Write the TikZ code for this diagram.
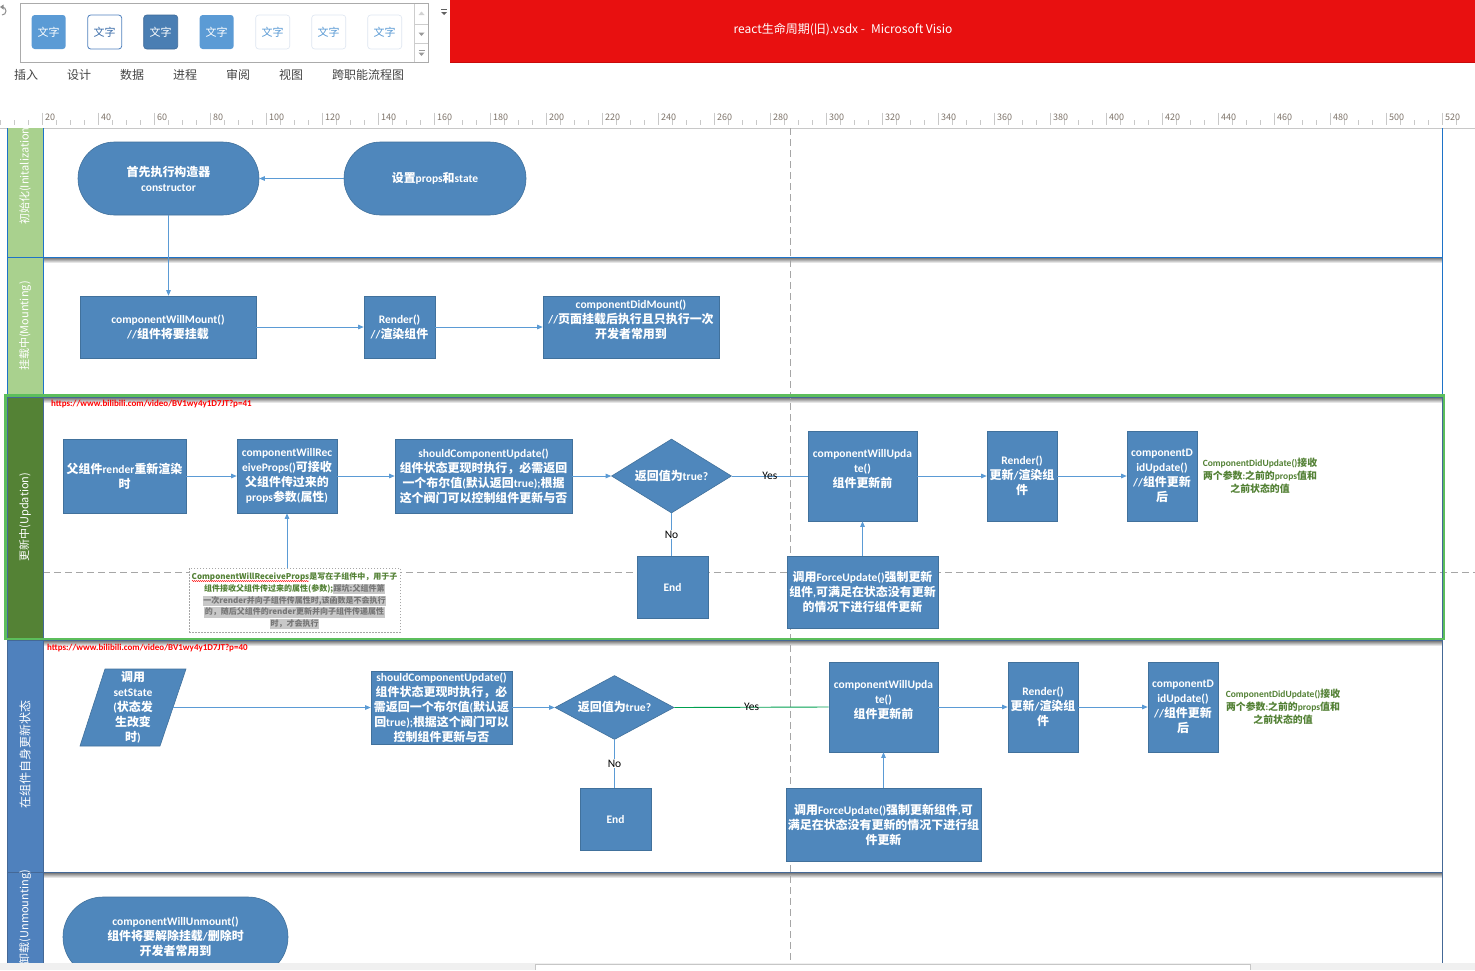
\documentclass[tikz,border=0pt]{standalone}
\usepackage{fontspec}
\setmainfont{Carlito}
\newfontfamily\latinfont{Carlito}
\newfontfamily\cjkfont[Scale=1.04]{Noto Sans CJK SC}
\newfontfamily\uifont{Noto Sans CJK SC}
\usetikzlibrary{shapes.geometric,arrows.meta,decorations.pathmorphing}
\XeTeXinterchartokenstate=1
\newXeTeXintercharclass\cjkcls
\newcount\cjkcnt
\cjkcnt="4E00
\loop \XeTeXcharclass\cjkcnt=\cjkcls \advance\cjkcnt by 1 \ifnum\cjkcnt<"A000 \repeat
\cjkcnt="3000
\loop \XeTeXcharclass\cjkcnt=\cjkcls \advance\cjkcnt by 1 \ifnum\cjkcnt<"3040 \repeat
\cjkcnt="FF00
\loop \XeTeXcharclass\cjkcnt=\cjkcls \advance\cjkcnt by 1 \ifnum\cjkcnt<"FFF0 \repeat
\XeTeXinterchartoks 0 \cjkcls = {\cjkfont}
\XeTeXinterchartoks 4095 \cjkcls = {\cjkfont}
\XeTeXinterchartoks \cjkcls 0 = {\latinfont}
\XeTeXinterchartoks \cjkcls 4095 = {\latinfont}

\definecolor{nodefill}{RGB}{79,135,188}
\definecolor{nodeborder}{RGB}{65,113,156}
\definecolor{arrowblue}{RGB}{91,155,213}
\definecolor{laneblue}{RGB}{30,115,200}
\definecolor{lanedark}{RGB}{68,104,150}
\definecolor{hdrlight}{RGB}{169,209,142}
\definecolor{hdrdark}{RGB}{84,130,53}
\definecolor{hdrblue}{RGB}{79,129,189}
\definecolor{poolgreen}{RGB}{92,190,92}
\definecolor{dashgray}{RGB}{166,166,166}
\definecolor{notegreen}{RGB}{83,129,53}
\definecolor{yesgreen}{RGB}{0,160,80}
\definecolor{titlered}{RGB}{232,16,16}
\definecolor{titleline}{RGB}{200,10,10}
\definecolor{hlgray}{RGB}{200,200,200}
\definecolor{hltext}{RGB}{118,118,118}
\definecolor{rulertext}{RGB}{125,115,105}
\definecolor{tickgray}{RGB}{200,200,200}
\definecolor{menutext}{RGB}{68,68,68}
\definecolor{galleryborder}{RGB}{171,171,171}
\definecolor{btnA}{RGB}{91,155,213}
\definecolor{btnBdraw}{RGB}{80,130,190}
\definecolor{btnBtext}{RGB}{60,110,170}
\definecolor{btnC}{RGB}{74,126,179}
\definecolor{btnCdraw}{RGB}{62,106,152}
\definecolor{btnText}{RGB}{91,155,213}
\definecolor{faintborder}{RGB}{222,230,241}
\definecolor{shade}{RGB}{235,241,249}
\definecolor{barGray}{RGB}{240,240,240}

\newcommand\nodefont{\fontsize{11.5}{15}\selectfont\bfseries}
\newcommand\uitext{\uifont\let\latinfont\uifont\let\cjkfont\uifont}
\newcommand\notefont{\uitext\fontsize{8}{11.75}\selectfont\bfseries}
\newcommand\hlbox[1]{{\setlength{\fboxsep}{0.4pt}\colorbox{hlgray}{\textcolor{hltext}{\rule[-2.4pt]{0pt}{8.5pt}#1}}}}

\begin{document}
\begin{tikzpicture}[x=1pt,y=-1pt,
  box/.style={draw=nodeborder, line width=0.6pt, fill=nodefill, text=white, font=\nodefont, align=center, inner sep=0pt},
  arr/.style={draw=arrowblue, line width=0.75pt, -{Triangle[length=5.5pt,width=4.5pt]}},
  ln/.style={draw=arrowblue, line width=0.75pt},
  lbl/.style={font=\fontsize{11.5}{13}\selectfont, text=black, inner sep=0pt},
  url/.style={font=\fontsize{9}{10}\selectfont\bfseries, text=red, anchor=west, inner sep=0pt},
  gnote/.style={font=\fontsize{9.5}{13}\selectfont\bfseries, text=notegreen, align=center, inner sep=0pt},
  hdr/.style={rotate=90, text=white, font=\uitext\fontsize{11}{13}\selectfont, inner sep=0pt},
  btn/.style={rounded corners=3pt, minimum width=34, minimum height=34, inner sep=0pt, font=\uitext\fontsize{11}{12}\selectfont},
  menu/.style={font=\uitext\fontsize{12}{14}\selectfont, text=menutext, inner sep=0pt},
  rlab/.style={font=\uitext\fontsize{9}{10}\selectfont, text=rulertext, inner sep=0pt, anchor=north west}]
\useasboundingbox (0,0) rectangle (1475,970);
\fill[white] (0,0) rectangle (1475,970);

% ---------- top UI ----------
\draw[gray!90, line width=1pt] (2,7) arc[start angle=-90, end angle=90, radius=4];
\fill[gray!90] (0,7) -- (3.5,4.5) -- (3.5,9.5) -- cycle;
\draw[galleryborder, line width=0.8pt] (20.5,3.5) rectangle (428,62);
\draw[galleryborder!60, line width=0.6pt] (414,3.5) -- (414,62) (414,24.3) -- (428,24.3) (414,43.3) -- (428,43.3);
\fill[gray!35] (418.5,15) -- (424.5,15) -- (421.5,11.5) -- cycle;
\fill[gray!80] (418.5,32.5) -- (424.5,32.5) -- (421.5,36) -- cycle;
\draw[gray!80, line width=0.7pt] (418.5,50.5) -- (424.5,50.5);
\fill[gray!80] (418.5,52.5) -- (424.5,52.5) -- (421.5,56) -- cycle;
\node[btn, fill=btnA, text=white] (g1) at (48.7,32) {文字};
\node[btn, fill=white, draw=btnBdraw, line width=0.8pt, text=btnBtext] (g2) at (104.7,32) {文字};
\node[btn, fill=btnC, draw=btnCdraw, line width=0.6pt, text=white] (g3) at (160.7,32) {文字};
\node[btn, fill=btnA, text=white] (g4) at (216.7,32) {文字};
\node[btn, fill=white, draw=faintborder, line width=0.6pt, text=btnText] (g5) at (272.7,32) {文字};
\node[btn, fill=white, draw=faintborder, line width=0.6pt, text=btnText] (g6) at (328.7,32) {文字};
\node[btn, fill=white, draw=faintborder, line width=0.6pt, text=btnText] (g7) at (384.7,32) {文字};
\draw[gray!75!black, line width=0.6pt] (441,9.5) -- (447,9.5);
\fill[gray!75!black] (441,12) -- (447,12) -- (444,15) -- cycle;
\node[menu] (m1) at (26,75) {插入};
\node[menu] (m2) at (79,75) {设计};
\node[menu] (m3) at (132,75) {数据};
\node[menu] (m4) at (185,75) {进程};
\node[menu] (m5) at (238,75) {审阅};
\node[menu] (m6) at (291,75) {视图};
\node[menu] (m7) at (368,75) {跨职能流程图};
\fill[titlered] (450,0) rectangle (1475,62);
\draw[titleline, line width=0.8pt] (450,62) -- (1475,62);
\node[font=\uitext\fontsize{12}{14}\selectfont, text=white, inner sep=0pt] (title) at (843,30) {react生命周期(旧).vsdx -\hspace{0.5em}Microsoft Visio};

% ruler
\draw[tickgray, line width=0.7pt] (0,128) -- (1475,128);
\foreach \j in {-3,...,101} {
  \pgfmathsetmacro\xx{42.7+14*\j}
  \draw[tickgray, line width=0.6pt] (\xx,120) -- (\xx,125);
}
\foreach \k in {0,...,25} {
  \pgfmathsetmacro\xx{42.7+56*\k}
  \pgfmathtruncatemacro\vv{20+20*\k}
  \draw[tickgray, line width=0.6pt] (\xx,112.5) -- (\xx,125);
  \node[rlab] (r\k) at (\xx+2.2,114) {\vv};
}

% ---------- diagram ----------
\begin{scope}
\clip (0,128.6) rectangle (1475,963);
\fill[hdrlight] (7,100) rectangle (43,257);
\fill[hdrlight] (7,257) rectangle (43,395);
\fill[hdrdark] (7,397) rectangle (43,638);
\fill[hdrblue] (7,640) rectangle (43,872);
\fill[hdrblue] (7,872) rectangle (43,990);
\fill[shade] (43,258) rectangle (1442,263);
\fill[shade] (43,398) rectangle (1442,403);
\fill[shade] (43,641) rectangle (1442,646);
\fill[shade] (43,873) rectangle (1442,878);
\draw[dashgray, line width=0.8pt, dash pattern=on 7pt off 4pt] (790,128) -- (790,963);
\draw[dashgray, line width=0.8pt, dash pattern=on 7pt off 4pt] (43,572) -- (1475,572);
\draw[laneblue, line width=0.9pt] (7,128) -- (7,395) (43,128) -- (43,395) (7,257) -- (1442,257) (1442,128) -- (1442,395);
\draw[lanedark, line width=0.9pt] (7,640) -- (7,963) (43,640) -- (43,963) (7,640) -- (1442,640) (7,872) -- (1442,872) (1442,640) -- (1442,963);
\draw[lanedark, line width=0.9pt] (7,397) rectangle (1442,638) (43,397) -- (43,638);
\draw[poolgreen, line width=2.2pt] (5.5,395.5) rectangle (1444,639);

\node[hdr, anchor=west] (h1) at (25,225) {初始化(Initalization)};
\node[hdr] (h2) at (25,326) {挂载中(Mounting)};
\node[hdr] (h3) at (25,517) {更新中(Updation)};
\node[hdr, font=\uitext\fontsize{12}{13}\selectfont] (h4) at (25,754) {在组件自身更新状态};
\node[hdr] (h5) at (25,917) {卸载(Unmounting)};

% lane 1 and 2
\node[box, rounded corners=36.5pt, minimum width=181, minimum height=73] (A) at (168.5,178.5) {首先执行构造器\\constructor};
\node[box, rounded corners=36.5pt, minimum width=182, minimum height=73] (B) at (435,178.5) {设置props和state};
\node[box, minimum width=176, minimum height=62] (C) at (168,327) {componentWillMount()\\//组件将要挂载};
\node[box, minimum width=71, minimum height=62] (D) at (399.5,327) {Render()\\//渲染组件};
\node[box, minimum width=176, minimum height=62] (E) at (631,327) {componentDidMount()\\//页面挂载后执行且只执行一次\\开发者常用到\\\mbox{}};
\draw[arr] (B.west) -- (A.east);
\draw[arr] (A.south) -- (A.south |- C.north);
\draw[arr] (C.east) -- (D.west);
\draw[arr] (D.east) -- (E.west);

% lane 3
\node[url] (u1) at (51,404.5) {https://www.bilibili.com/video/BV1wy4y1D7JT?p=41};
\node[box, minimum width=123, minimum height=74] (F) at (124.5,476) {父组件render重新渲染\\时};
\node[box, minimum width=100, minimum height=74] (G) at (287,476) {componentWillRec\\eiveProps()可接收\\父组件传过来的\\props参数(属性)};
\node[box, minimum width=177, minimum height=74] (H) at (483.5,476) {shouldComponentUpdate()\\组件状态更现时执行，必需返回\\一个布尔值(默认返回true);根据\\这个阀门可以控制组件更新与否};
\node[box, diamond, aspect=1.62, minimum width=120, minimum height=74] (I) at (671.5,476) {返回值为true?};
\node[box, minimum width=109, minimum height=90] (J) at (862.5,476) {componentWillUpda\\te()\\组件更新前\\\mbox{}};
\node[box, minimum width=70, minimum height=90] (K) at (1022,476) {Render()\\更新/渲染组\\件};
\node[box, minimum width=70, minimum height=90] (L) at (1162,476) {componentD\\idUpdate()\\//组件更新\\后};
\node[gnote] (n1) at (1260,476) {ComponentDidUpdate()接收\\两个参数:之前的props值和\\之前状态的值};
\node[box, minimum width=71, minimum height=62] (M) at (672.5,587) {End};
\node[box, minimum width=151, minimum height=72] (N) at (862.5,592) {调用ForceUpdate()强制更新\\组件,可满足在状态没有更新\\的情况下进行组件更新};
\node[draw=dashgray, dash pattern=on 1.5pt off 1.5pt, line width=0.6pt, fill=white, minimum width=211, minimum height=64, inner sep=0pt] (nt) at (294.5,600) {};
\node[inner sep=0pt, align=center, font=\notefont] (ntx) at (294.5,601) {\textcolor{notegreen}{ComponentWillReceiveProps是写在子组件中，用于子}\\\textcolor{notegreen}{组件接收父组件传过来的属性(参数);}\hlbox{踩坑:父组件第}\\\hlbox{一次render并向子组件传属性时,该函数是不会执行}\\\hlbox{的，随后父组件的render更新并向子组件传递属性}\\\hlbox{时，才会执行}};
\coordinate (sq1) at (192,581);
\coordinate (sq2) at (309,581);
\draw[red, line width=0.4pt, decorate, decoration={snake, amplitude=0.6pt, segment length=2pt}] (sq1) -- (sq2);
\draw[arr] (F.east) -- (G.west);
\draw[arr] (G.east) -- (H.west);
\draw[arr] (H.east) -- (I.west);
\draw[ln] (I.east) -- node[lbl] (y1) {Yes} (J.west);
\draw[arr] (J.east) -- (K.west);
\draw[arr] (K.east) -- (L.west);
\draw[ln] (I.south) -- node[lbl, fill=white, inner sep=1pt] (no1) {No} (I.south |- M.north);
\draw[arr] (nt.north -| G.south) -- (G.south);
\draw[arr] (N.north) -- (J.south);

% lane 4
\node[url] (u2) at (47,648.5) {https://www.bilibili.com/video/BV1wy4y1D7JT?p=40};
\draw[fill=nodefill, draw=nodeborder, line width=0.6pt] (105,669) -- (186,669) -- (160,746) -- (80,746) -- cycle;
\node[font=\nodefont, text=white, align=center, inner sep=0pt] (P) at (133,707.5) {调用\\setState\\(状态发\\生改变\\时)};
\coordinate (Pe) at (172.5,707.5);
\node[box, minimum width=141, minimum height=73] (Q) at (441.5,707.5) {shouldComponentUpdate()\\组件状态更现时执行，必\\需返回一个布尔值(默认返\\回true);根据这个阀门可以\\控制组件更新与否};
\node[box, diamond, aspect=1.75, minimum width=119, minimum height=64] (R) at (614.5,707.5) {返回值为true?};
\node[box, minimum width=109, minimum height=90] (S) at (883.5,707) {componentWillUpda\\te()\\组件更新前\\\mbox{}};
\node[box, minimum width=70, minimum height=90] (T) at (1043,707) {Render()\\更新/渲染组\\件};
\node[box, minimum width=70, minimum height=90] (U) at (1183,707) {componentD\\idUpdate()\\//组件更新\\后};
\node[gnote] (n2) at (1283,707) {ComponentDidUpdate()接收\\两个参数:之前的props值和\\之前状态的值};
\node[box, minimum width=71, minimum height=62] (V) at (615.5,819) {End};
\node[box, minimum width=195, minimum height=73] (W) at (883.5,824.5) {调用ForceUpdate()强制更新组件,可\\满足在状态没有更新的情况下进行组\\件更新};
\draw[arr] (Pe) -- (Q.west);
\draw[arr] (Q.east) -- (R.west);
\draw[yesgreen, line width=0.9pt] (R.east) -- node[lbl] (y2) {Yes} (S.west);
\draw[arr] (S.east) -- (T.west);
\draw[arr] (T.east) -- (U.west);
\draw[ln] (R.south) -- node[lbl, fill=white, inner sep=1pt] (no2) {No} (R.south |- V.north);
\draw[arr] (W.north -| S.south) -- (S.south);

% lane 5
\node[box, rounded corners=40pt, minimum width=225, minimum height=80] (X) at (175.5,937) {componentWillUnmount()\\组件将要解除挂载/删除时\\开发者常用到};
\end{scope}

% bottom bar
\fill[barGray] (0,963) rectangle (1475,970);
\fill[white] (535,964.5) rectangle (1250,970);
\draw[gray!45, line width=0.6pt] (535,970) -- (535,964.5) -- (1250,964.5) -- (1250,970);
\end{tikzpicture}
\end{document}
